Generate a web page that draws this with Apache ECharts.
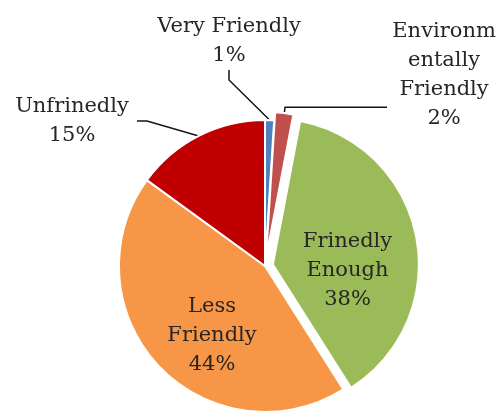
<!DOCTYPE html>
<html>
<head>
<meta charset="utf-8">
<script src="https://cdn.jsdelivr.net/npm/echarts@6/dist/echarts.min.js"></script>
<style>
  html, body { margin: 0; padding: 0; background: #fff; }
  #chart { width: 500px; height: 414px; }
</style>
</head>
<body>
<div id="chart"></div>
<script>
// Share of respondents per friendliness rating (percent)
const categories = ['Very Friendly', 'Environmentally Friendly', 'Frinedly Enough', 'Less Friendly', 'Unfrinedly'];
const labelLines = [['Very Friendly'], ['Environm', 'entally', 'Friendly'], ['Frinedly', 'Enough'], ['Less', 'Friendly'], ['Unfrinedly']];
const values = [1, 2, 38, 44, 15];
const colors = ['#4F81BD', '#C0504D', '#9BBB59', '#F79646', '#C00000'];
const pulledOut = [false, true, true, false, false];

// Per-slice label settings
const labelStyles = [
  { position: 'outside', width: 170 },
  { position: 'outside', width: 108, padding: [0, 0, 64, 0] },
  { position: 'inside', width: 120, padding: [40, 0, 0, 0] },
  { position: 'inside', width: 120 },
  { position: 'outside', width: 130 }
];
const lineStyles = [
  { show: true },
  { show: true, length: 6, length2: 102 },
  { show: false },
  { show: false },
  { show: true }
];
// Fixed anchor points (x, y) for labels that are not on pulled-out slices
const labelSpots = [[229, 41], null, null, [212, 336], [72, 121]];

const chart = echarts.init(document.getElementById('chart'), null, { renderer: 'canvas' });

const seriesData = categories.map((name, i) => ({
  name: name,
  value: values[i],
  selected: pulledOut[i],
  itemStyle: { color: colors[i] },
  label: labelStyles[i],
  labelLine: lineStyles[i]
}));

chart.setOption({
  animation: false,
  series: [{
    type: 'pie',
    center: [265, 266],
    radius: 146,
    startAngle: 90,
    clockwise: true,
    avoidLabelOverlap: false,
    selectedMode: 'multiple',
    selectedOffset: 8,
    emphasis: { disabled: true },
    itemStyle: { borderColor: '#ffffff', borderWidth: 2 },
    label: {
      fontFamily: 'DejaVu Serif',
      fontSize: 21,
      lineHeight: 29,
      color: '#262626',
      align: 'center',
      distanceToLabelLine: 3,
      overflow: 'none',
      formatter: p => labelLines[p.dataIndex].concat([p.value + '%']).map(s => '{t|' + s + '}').join('\n'),
      rich: {
        t: {
          fontFamily: 'DejaVu Serif',
          fontSize: 21,
          lineHeight: 29,
          color: '#262626',
          align: 'center'
        }
      }
    },
    labelLine: {
      length: 12,
      length2: 10,
      lineStyle: { color: '#141414', width: 1.5 }
    },
    labelLayout: p => {
      const spot = labelSpots[p.dataIndex];
      if (!spot) return;
      return { x: spot[0], y: spot[1], align: 'center', verticalAlign: 'middle' };
    },
    data: seriesData
  }]
});
</script>
</body>
</html>
